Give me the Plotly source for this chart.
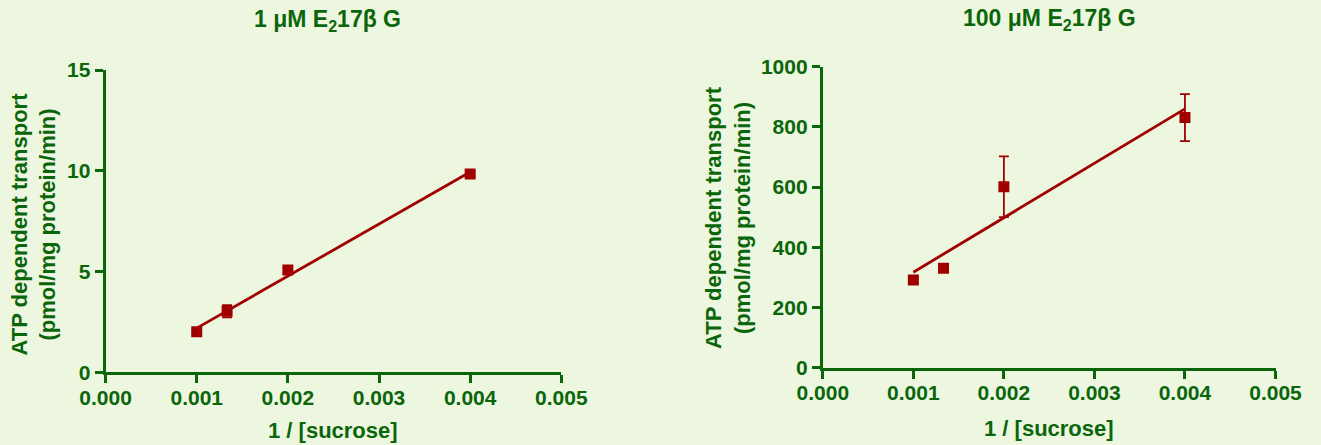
import numpy as np
import plotly.graph_objects as go

# ---- data ----
inv_sucrose = [0.001, 0.001333, 0.002, 0.004]
x_ticks = [0.000, 0.001, 0.002, 0.003, 0.004, 0.005]

low_title = "1 μM E<sub>2</sub>17β G"
low_values = [2.01, 3.03, 5.08, 9.84]
low_err = [0.08, 0.3, 0.12, 0.12]
low_yticks = [0, 5, 10, 15]

high_title = "100 μM E<sub>2</sub>17β G"
high_values = [291, 330, 601, 831]
high_err = [10, 12, 101, 78]
high_yticks = [0, 200, 400, 600, 800, 1000]

y_label = "ATP dependent transport<br>(pmol/mg protein/min)"
x_label = "1 / [sucrose]"

RED = "#a00000"
GREEN = "#0b650b"
BG = "#edf7e0"
FONT = "Liberation Sans, Arial, sans-serif"
W, H = 1321, 445

fig = go.Figure()


def add_panel(xs, ys, errs, xa, ya):
    coef = np.polyfit(xs, ys, 1)
    fx = [min(xs), max(xs)]
    fy = list(np.polyval(coef, fx))
    fig.add_trace(go.Scatter(x=fx, y=fy, mode="lines",
                             line=dict(color=RED, width=2.8),
                             xaxis=xa, yaxis=ya, showlegend=False))
    fig.add_trace(go.Scatter(x=xs, y=ys, mode="markers",
                             marker=dict(symbol="square", size=11, color=RED),
                             error_y=dict(type="data", array=errs, color=RED,
                                          thickness=1.8, width=5),
                             xaxis=xa, yaxis=ya, showlegend=False))


add_panel(inv_sucrose, low_values, low_err, "x", "y")
add_panel(inv_sucrose, high_values, high_err, "x2", "y2")

tfont = dict(family=FONT, size=21, color=GREEN, weight="bold")
lfont = dict(family=FONT, size=22, color=GREEN, weight="bold")
hfont = dict(family=FONT, size=23, color=GREEN, weight="bold")

axis_common = dict(showline=True, linecolor=GREEN, linewidth=3,
                   ticks="outside", tickcolor=GREEN, tickwidth=3, ticklen=8,
                   showgrid=False, zeroline=False, automargin=False,
                   tickfont=tfont)

xcommon = dict(axis_common, range=[0, 0.005], tickvals=x_ticks,
               ticktext=[f"{v:.3f}" for v in x_ticks], ticklabelstandoff=-4)

L = (105.6, 561.3, 372.3, 70.0)   # left, right, bottom, top (px)
R = (822.8, 1275.5, 367.7, 66.7)


def px_x(v):
    return v / W


def px_y(v):
    return 1 - v / H


fig.update_layout(
    width=W, height=H,
    margin=dict(l=0, r=0, t=0, b=0),
    paper_bgcolor=BG, plot_bgcolor=BG,
    xaxis=dict(xcommon, domain=[px_x(L[0]), px_x(L[1])], anchor="y"),
    xaxis2=dict(xcommon, domain=[px_x(R[0]), px_x(R[1])], anchor="y2"),
    yaxis=dict(axis_common, range=[0, 15], tickvals=low_yticks,
               domain=[px_y(L[2]), px_y(L[3])], anchor="x"),
    yaxis2=dict(axis_common, range=[0, 1000], tickvals=high_yticks,
                domain=[px_y(R[2]), px_y(R[3])], anchor="x2"),
    annotations=[
        dict(text=low_title, x=px_x(327.6), y=px_y(21),
             xref="paper", yref="paper", showarrow=False,
             xanchor="center", yanchor="middle", font=hfont),
        dict(text=high_title, x=px_x(1049.5), y=px_y(19),
             xref="paper", yref="paper", showarrow=False,
             xanchor="center", yanchor="middle", font=hfont),
        dict(text=x_label, x=px_x((L[0] + L[1]) / 2), y=px_y(430),
             xref="paper", yref="paper", showarrow=False,
             xanchor="center", yanchor="middle", font=lfont),
        dict(text=x_label, x=px_x((R[0] + R[1]) / 2), y=px_y(428),
             xref="paper", yref="paper", showarrow=False,
             xanchor="center", yanchor="middle", font=lfont),
        dict(text=y_label, x=px_x(33.5), y=px_y(224), textangle=-90,
             xref="paper", yref="paper", showarrow=False,
             xanchor="center", yanchor="middle", font=lfont),
        dict(text=y_label, x=px_x(728), y=px_y(218), textangle=-90,
             xref="paper", yref="paper", showarrow=False,
             xanchor="center", yanchor="middle", font=lfont),
    ],
)

fig.write_html("out.html",
               config={"displayModeBar": False},
               post_script="document.body.style.margin='0';"
                           "document.body.style.overflow='hidden';")
